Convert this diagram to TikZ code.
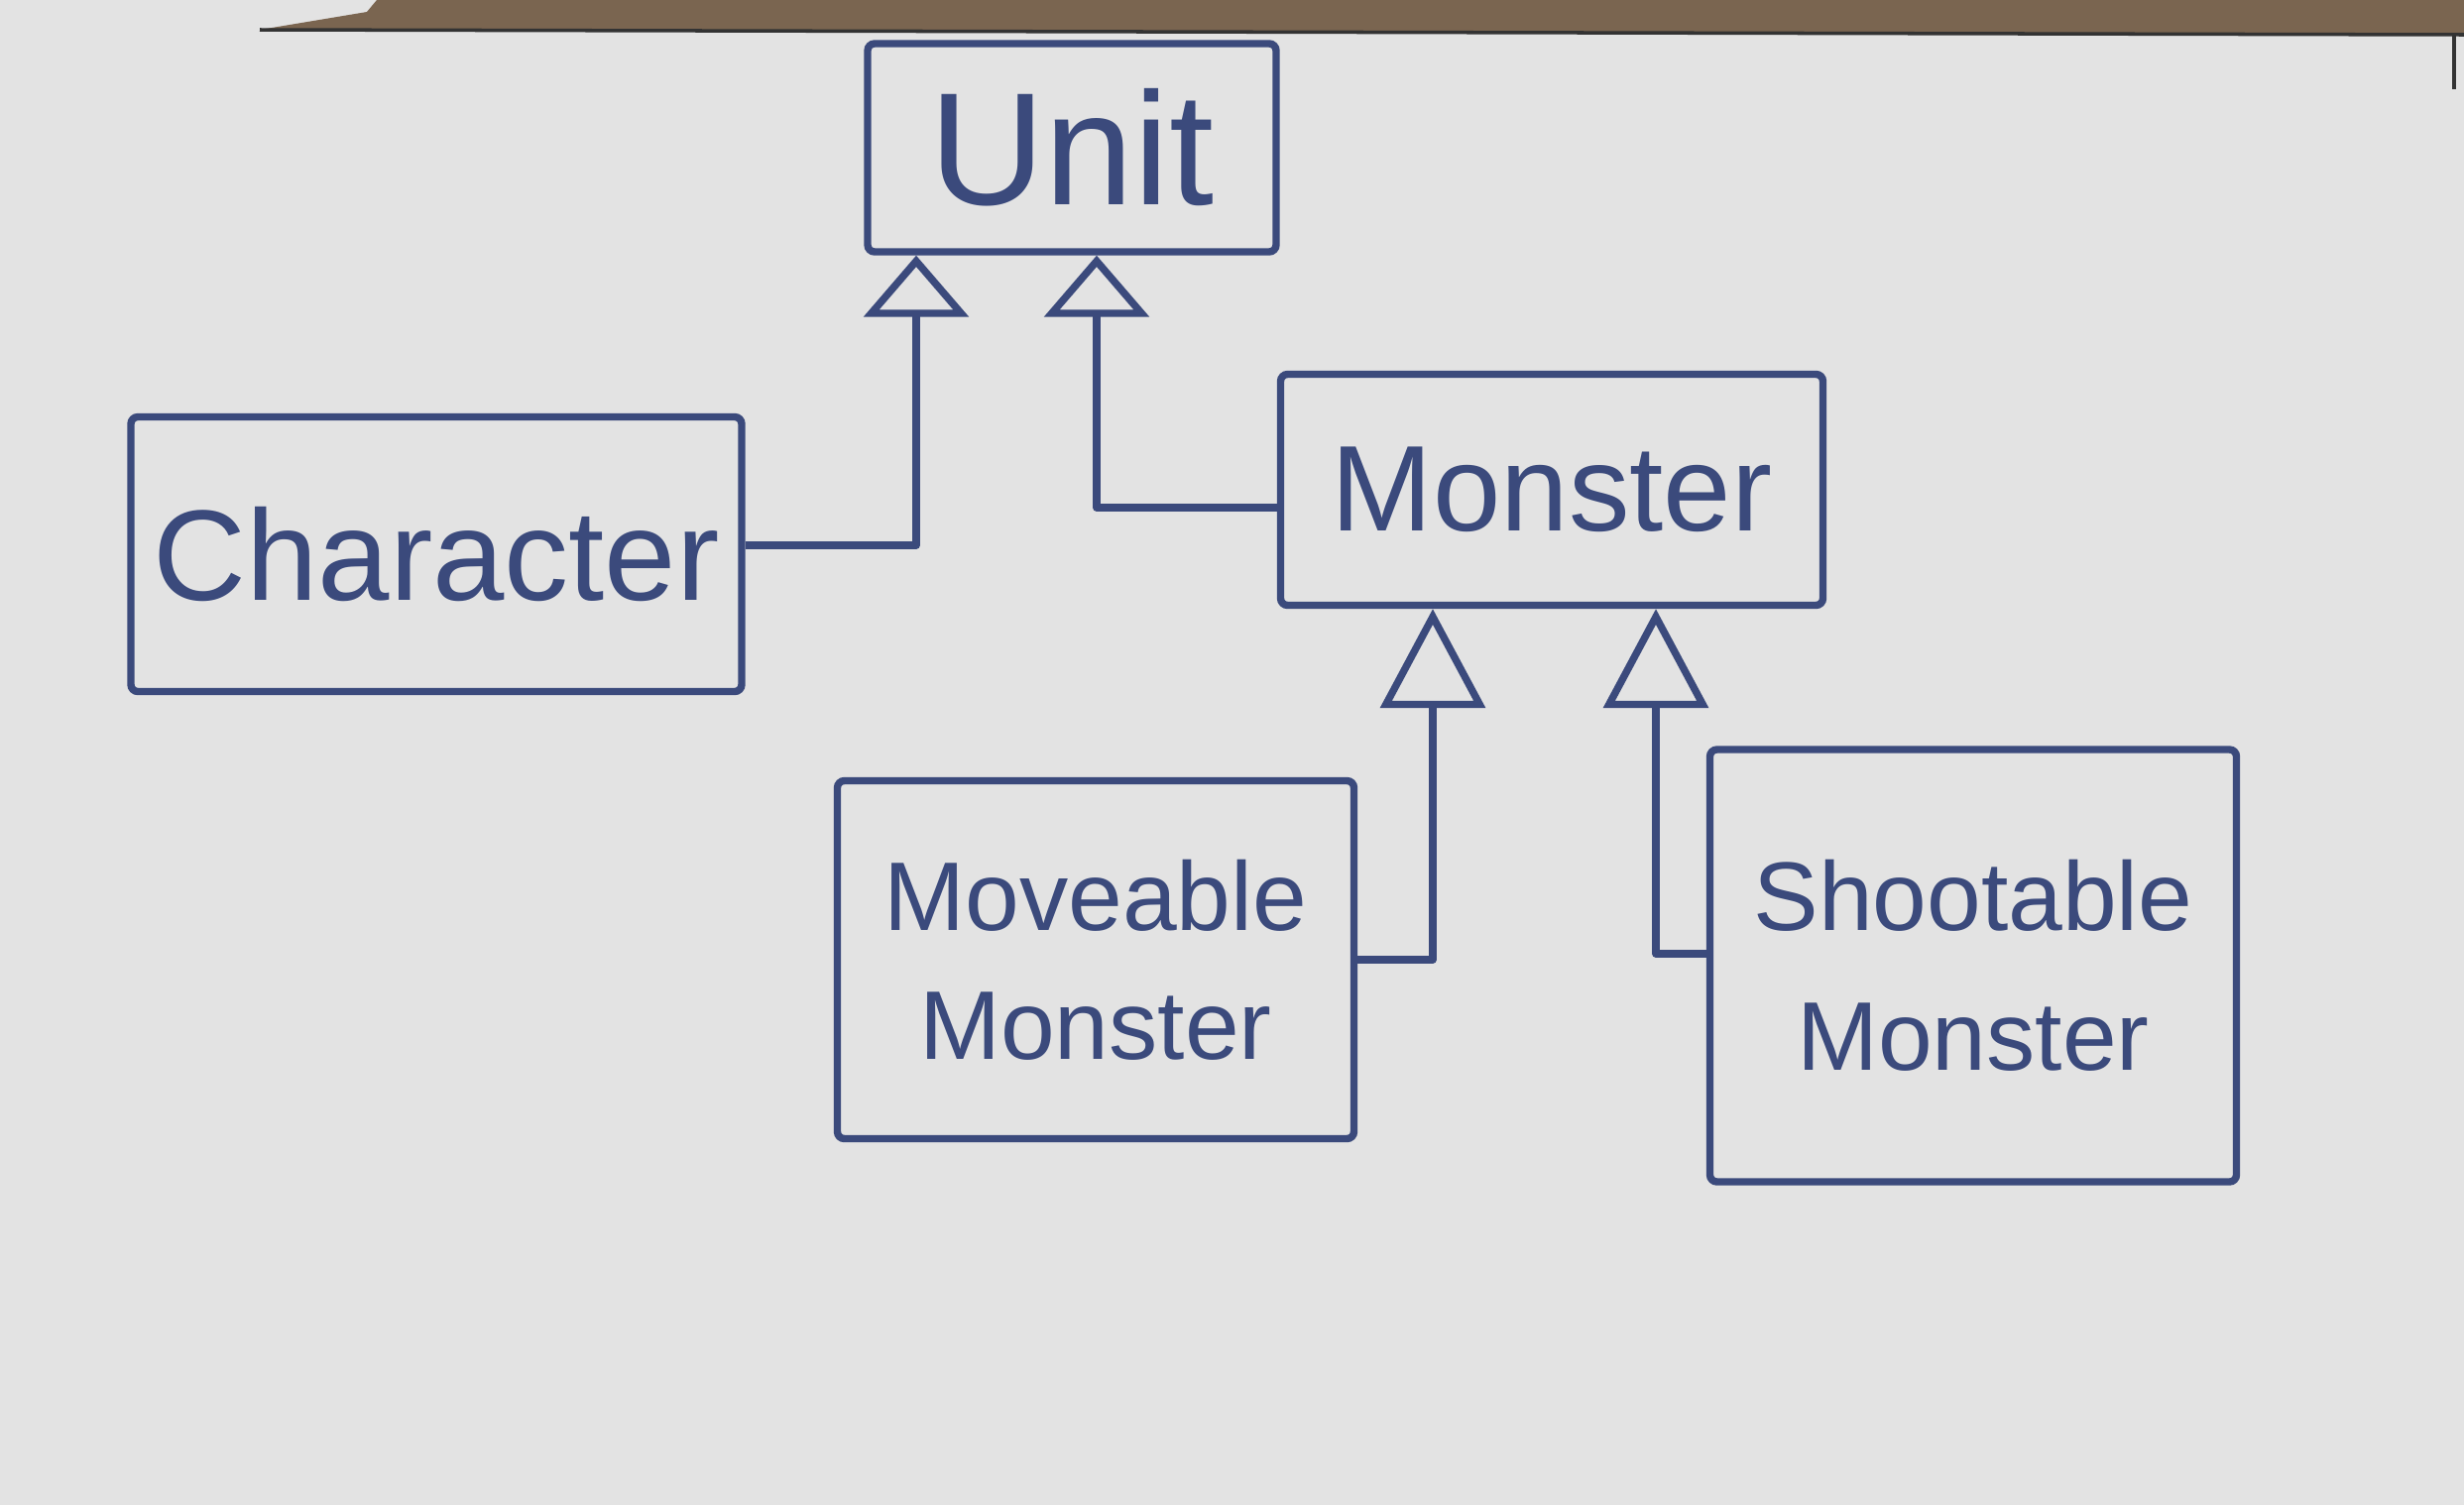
\documentclass[tikz,border=0pt]{standalone}
\usepackage{fontspec}
\setmainfont{Liberation Sans}
\usetikzlibrary{arrows.meta,positioning,calc}

\definecolor{board}{HTML}{E3E3E3}
\definecolor{ink}{HTML}{3B4A7C}
\definecolor{frame}{HTML}{7A6550}

\begin{document}
\begin{tikzpicture}[
    classbox/.style={rectangle, draw=ink, line width=2.1pt, rounded corners=2pt, inner sep=0pt, text=ink, align=center},
    inherit/.style={draw=ink, line width=2.1pt, line join=round, -{Triangle[open, length=0.62cm, width=1.05cm]}},
    inherittall/.style={inherit, -{Triangle[open, length=1.0cm, width=1.05cm]}}
]

% Whiteboard and frame
\useasboundingbox (0,0) rectangle (24.85,-15.18);
\fill[board] (0,0) rectangle (24.85,-15.18);
\fill[frame] (3.8,0) -- (24.85,0) -- (24.85,-0.35) -- (2.62,-0.30) -- (3.7,-0.12) -- cycle;
\draw[black!80, line width=1pt] (2.62,-0.30) -- (24.85,-0.35);
\draw[black!80, line width=1.2pt] (24.75,-0.35) -- (24.75,-0.9);

% Classes
\node[classbox, minimum width=4.12cm, minimum height=2.10cm, font=\fontsize{46}{52}\selectfont] (unit) at (10.81,-1.49) {Unit};
\node[classbox, minimum width=6.16cm, minimum height=2.77cm, font=\fontsize{37}{44}\selectfont] (character) at (4.40,-5.59) {Character};
\node[classbox, minimum width=5.47cm, minimum height=2.33cm, font=\fontsize{35}{42}\selectfont] (monster) at (15.65,-4.94) {Monster};
\node[classbox, minimum width=5.21cm, minimum height=3.61cm, font=\fontsize{28}{37}\selectfont] (moveable) at (11.05,-9.68) {Moveable\\Monster};
\node[classbox, minimum width=5.31cm, minimum height=4.36cm, font=\fontsize{28}{40}\selectfont] (shootable) at (19.90,-9.74) {Shootable\\Monster};

% Generalisations
\draw[inherit] ([yshift=0.09cm]character.east) -| ([xshift=-1.57cm]unit.south);
\draw[inherit] ([yshift=-0.18cm]monster.west) -| ([xshift=0.25cm]unit.south);
\draw[inherittall] (moveable.east) -| ([xshift=-1.2cm]monster.south);
\draw[inherittall] ([yshift=0.12cm]shootable.west) -| ([xshift=1.05cm]monster.south);

\end{tikzpicture}
\end{document}
